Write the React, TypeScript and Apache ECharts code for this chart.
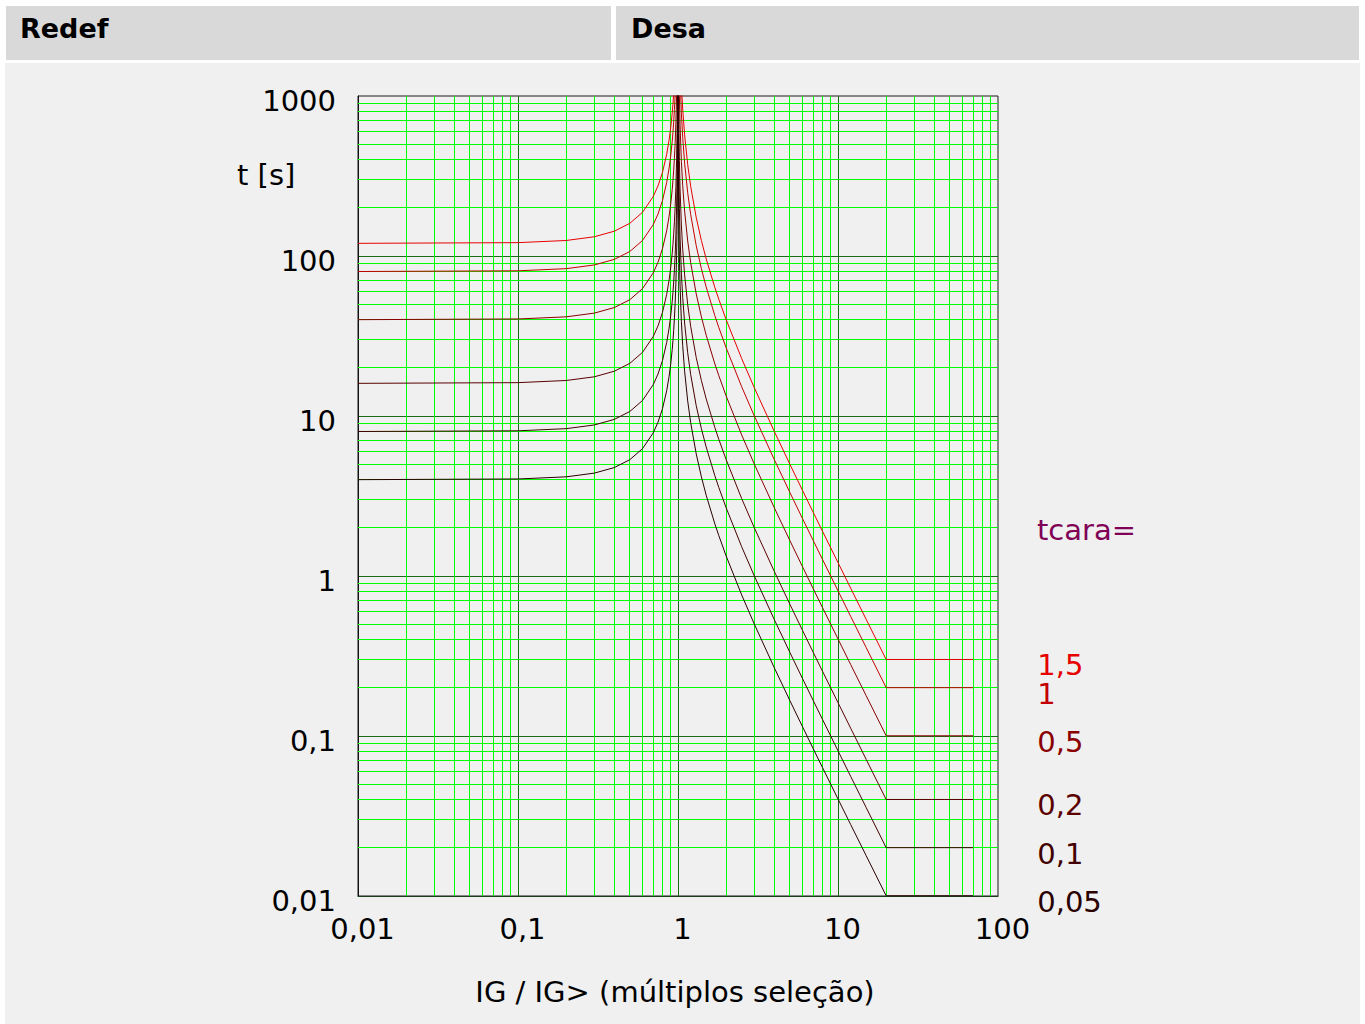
import React, { useEffect, useRef } from "react";
import * as echarts from "echarts";

// Multiples of pickup current (IG / IG>)
const X = [
  0.01, 0.1, 0.2, 0.3, 0.4, 0.5, 0.6, 0.7, 0.75, 0.8,
  0.85, 0.88, 0.9, 0.92, 0.93, 0.94, 0.95, 0.96, 0.97, 0.98,
  0.985, 0.99, 0.995, 0.998,
  1.002, 1.005, 1.01, 1.02, 1.03, 1.05, 1.07, 1.1, 1.15, 1.2,
  1.3, 1.4, 1.5, 1.7, 1.8, 2, 2.5, 3, 4, 5,
  6, 7, 8, 10, 12, 15, 20, 70,
];

// Times [s] (tcara = 1.5, 1, 0.5, 0.2, 0.1, 0.05)
const T_150 = [
  120, 121.2, 125, 131.9, 142.9, 160, 187.5, 235.4, 274.3, 333.3,
  432.4, 531.9, 631.6, 781.3, 888.3, 1031, 1231, 1530, 2031, 3030,
  4030, 6030, 12030, 30030,
  29970, 11970, 5970, 2970, 1971, 1171, 828.2, 571.4, 372.1, 272.7,
  173.9, 125, 96, 63.49, 53.57, 40, 22.86, 15, 8, 5,
  3.429, 2.5, 1.905, 1.212, 0.8392, 0.5357, 0.3008, 0.3008,
];
const T_100 = [
  80, 80.81, 83.33, 87.91, 95.24, 106.7, 125, 156.9, 182.9, 222.2,
  288.3, 354.6, 421.1, 520.8, 592.2, 687.3, 820.5, 1020, 1354, 2020,
  2687, 4020, 8020, 20020,
  19980, 7980, 3980, 1980, 1314, 780.5, 552.1, 381, 248.1, 181.8,
  115.9, 83.33, 64, 42.33, 35.71, 26.67, 15.24, 10, 5.333, 3.333,
  2.286, 1.667, 1.27, 0.8081, 0.5594, 0.3571, 0.2005, 0.2005,
];
const T_050 = [
  40, 40.4, 41.67, 43.96, 47.62, 53.33, 62.5, 78.43, 91.43, 111.1,
  144.1, 177.3, 210.5, 260.4, 296.1, 343.6, 410.3, 510, 677, 1010,
  1343, 2010, 4010, 10010,
  9990, 3990, 1990, 990, 657, 390.2, 276, 190.5, 124, 90.91,
  57.97, 41.67, 32, 21.16, 17.86, 13.33, 7.619, 5, 2.667, 1.667,
  1.143, 0.8333, 0.6349, 0.404, 0.2797, 0.1786, 0.1003, 0.1003,
];
const T_020 = [
  16, 16.16, 16.67, 17.58, 19.05, 21.33, 25, 31.37, 36.57, 44.44,
  57.66, 70.92, 84.21, 104.2, 118.4, 137.5, 164.1, 204, 270.8, 404,
  537.4, 804, 1604, 4004,
  3996, 1596, 796, 396, 262.8, 156.1, 110.4, 76.19, 49.61, 36.36,
  23.19, 16.67, 12.8, 8.466, 7.143, 5.333, 3.048, 2, 1.067, 0.6667,
  0.4571, 0.3333, 0.254, 0.1616, 0.1119, 0.07143, 0.0401, 0.0401,
];
const T_010 = [
  8, 8.081, 8.333, 8.791, 9.524, 10.67, 12.5, 15.69, 18.29, 22.22,
  28.83, 35.46, 42.11, 52.08, 59.22, 68.73, 82.05, 102, 135.4, 202,
  268.7, 402, 802, 2002,
  1998, 798, 398, 198, 131.4, 78.05, 55.21, 38.1, 24.81, 18.18,
  11.59, 8.333, 6.4, 4.233, 3.571, 2.667, 1.524, 1, 0.5333, 0.3333,
  0.2286, 0.1667, 0.127, 0.08081, 0.05594, 0.03571, 0.02005, 0.02005,
];
const T_005 = [
  4, 4.04, 4.167, 4.396, 4.762, 5.333, 6.25, 7.843, 9.143, 11.11,
  14.41, 17.73, 21.05, 26.04, 29.61, 34.36, 41.03, 51, 67.7, 101,
  134.3, 201, 401, 1001,
  999, 399, 199, 99, 65.7, 39.02, 27.6, 19.05, 12.4, 9.091,
  5.797, 4.167, 3.2, 2.116, 1.786, 1.333, 0.7619, 0.5, 0.2667, 0.1667,
  0.1143, 0.08333, 0.06349, 0.0404, 0.02797, 0.01786, 0.01003, 0.01003,
];

const CURVES = [T_150, T_100, T_050, T_020, T_010, T_005];
const TCARA_LABELS = ["1,5", "1", "0,5", "0,2", "0,1", "0,05"];

// Minor grid positions (2..9 of each decade)
const MINOR_X = [
  0.02, 0.03, 0.04, 0.05, 0.06, 0.07, 0.08, 0.09,
  0.2, 0.3, 0.4, 0.5, 0.6, 0.7, 0.8, 0.9,
  2, 3, 4, 5, 6, 7, 8, 9,
  20, 30, 40, 50, 60, 70, 80, 90,
];
const MINOR_Y = [
  0.02, 0.03, 0.04, 0.05, 0.06, 0.07, 0.08, 0.09,
  0.2, 0.3, 0.4, 0.5, 0.6, 0.7, 0.8, 0.9,
  2, 3, 4, 5, 6, 7, 8, 9,
  20, 30, 40, 50, 60, 70, 80, 90,
  200, 300, 400, 500, 600, 700, 800, 900,
];

const COLORS = ["#e60000", "#c20000", "#8a0000", "#5a0000", "#420000", "#2a0000"];
const FONT = '"DejaVu Sans", sans-serif';
const FS = 29;

const fmt = (v: number) => String(+(+v).toPrecision(6)).replace(".", ",");

export default function App() {
  const ref = useRef<HTMLDivElement>(null);

  useEffect(() => {
    const chart = echarts.init(ref.current!, null, { renderer: "svg" });

    const curveSeries = CURVES.map((T, k) => ({
      type: "line",
      name: TCARA_LABELS[k],
      data: X.map((x, i) => [x, T[i]]),
      showSymbol: false,
      symbol: "none",
      clip: true,
      z: 5,
      lineStyle: { color: COLORS[k], width: 1 },
      itemStyle: { color: COLORS[k] },
      endLabel: {
        show: true,
        formatter: TCARA_LABELS[k],
        color: COLORS[k],
        fontSize: FS,
        fontFamily: FONT,
        distance: 64,
        offset: [0, 6],
      },
      labelLayout: { hideOverlap: false },
      emphasis: { disabled: true },
      silent: true,
    }));

    const minorV = {
      type: "custom",
      z: 1,
      silent: true,
      clip: true,
      data: MINOR_X.map((v) => [v, 1]),
      renderItem: (params: any, api: any) => {
        const cs = params.coordSys;
        const p = api.coord([api.value(0), api.value(1)]);
        const px = Math.floor(p[0]) + 0.5;
        return {
          type: "line",
          shape: { x1: px, y1: cs.y, x2: px, y2: cs.y + cs.height },
          style: { stroke: "#00ff00", lineWidth: 1 },
        };
      },
    };
    const minorH = {
      type: "custom",
      z: 1,
      silent: true,
      clip: true,
      data: MINOR_Y.map((v) => [1, v]),
      renderItem: (params: any, api: any) => {
        const cs = params.coordSys;
        const p = api.coord([api.value(0), api.value(1)]);
        const py = Math.floor(p[1]) + 0.5;
        return {
          type: "line",
          shape: { x1: cs.x, y1: py, x2: cs.x + cs.width, y2: py },
          style: { stroke: "#00ff00", lineWidth: 1 },
        };
      },
    };

    chart.setOption({
      animation: false,
      textStyle: { fontFamily: FONT },
      grid: {
        left: 358,
        top: 96,
        width: 640,
        height: 800,
        show: true,
        borderColor: "#1a1a1a",
        borderWidth: 1,
        backgroundColor: "transparent",
      },
      xAxis: {
        type: "log",
        logBase: 10,
        min: 0.01,
        max: 100,
        axisLine: { show: true, lineStyle: { color: "#1a3a1a", width: 1 } },
        axisTick: { show: false },
        splitLine: {
          show: true,
          showMinLine: false,
          showMaxLine: false,
          lineStyle: { color: "#1a6a1a", width: 1 },
        },
        axisLabel: {
          formatter: fmt,
          color: "#000",
          fontSize: FS,
          fontFamily: FONT,
          margin: 18,
          padding: [0, 0, 0, 9],
        },
      },
      yAxis: {
        type: "log",
        logBase: 10,
        min: 0.01,
        max: 1000,
        axisLine: { show: true, lineStyle: { color: "#111", width: 1 } },
        axisTick: { show: false },
        splitLine: {
          show: true,
          showMinLine: false,
          showMaxLine: false,
          lineStyle: { color: "#1a6a1a", width: 1 },
        },
        axisLabel: {
          formatter: fmt,
          color: "#000",
          fontSize: FS,
          fontFamily: FONT,
          margin: 22,
          verticalAlign: "top",
          lineHeight: 10,
        },
      },
      graphic: [
        {
          type: "text",
          x: 237,
          y: 175,
          style: {
            text: "t [s]",
            fill: "#000",
            font: `${FS}px ${FONT}`,
            align: "left",
            verticalAlign: "middle",
          },
        },
        {
          type: "text",
          x: 675,
          y: 992,
          style: {
            text: "IG / IG> (múltiplos seleção)",
            fill: "#000",
            font: `${FS}px ${FONT}`,
            align: "center",
            verticalAlign: "middle",
          },
        },
        {
          type: "text",
          x: 1037,
          y: 530,
          style: {
            text: "tcara=",
            fill: "#800055",
            font: `${FS}px ${FONT}`,
            align: "left",
            verticalAlign: "middle",
          },
        },
      ],
      series: [minorV, minorH, ...curveSeries],
    });

    return () => chart.dispose();
  }, []);

  const headerText: React.CSSProperties = {
    position: "absolute",
    top: 0,
    height: 46,
    lineHeight: "46px",
    fontWeight: "bold",
    fontSize: 27,
    fontFamily: FONT,
    color: "#000",
  };

  return (
    <div
      style={{
        position: "fixed",
        left: 0,
        top: 0,
        width: 1365,
        height: 1024,
        background: "#ffffff",
        overflow: "hidden",
      }}
    >
      <div style={{ position: "absolute", left: 6, top: 6, width: 605, height: 54, background: "#d9d9d9" }}>
        <span style={{ ...headerText, left: 14 }}>Redef</span>
      </div>
      <div style={{ position: "absolute", left: 616, top: 6, width: 743, height: 54, background: "#d9d9d9" }}>
        <span style={{ ...headerText, left: 15 }}>Desa</span>
      </div>
      <div style={{ position: "absolute", left: 5, top: 63, width: 1355, height: 961, background: "#f0f0f0" }} />
      <div ref={ref} style={{ position: "absolute", left: 0, top: 0, width: 1365, height: 1024 }} />
    </div>
  );
}
